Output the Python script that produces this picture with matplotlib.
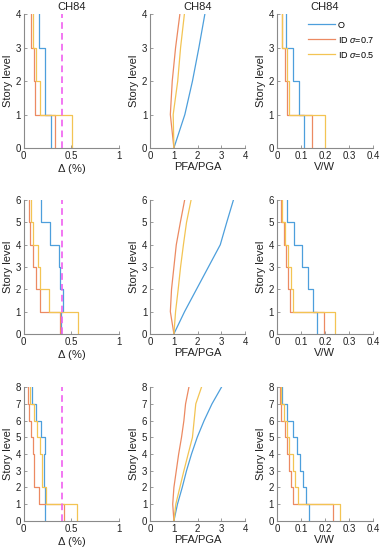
import numpy as np
import matplotlib.pyplot as plt

plt.rcParams['font.family'] = ['Liberation Sans', 'DejaVu Sans']
plt.rcParams['mathtext.fontset'] = 'custom'
plt.rcParams['mathtext.rm'] = 'Liberation Sans'
plt.rcParams['mathtext.it'] = 'Liberation Sans:italic'

# story drift ratio (%) per story, bottom to top
drift_O_4 = [0.286, 0.226, 0.226, 0.164]
drift_ID7_4 = [0.33, 0.115, 0.105, 0.08]
drift_ID5_4 = [0.505, 0.172, 0.13, 0.094]

drift_O_6 = [0.39, 0.415, 0.38, 0.37, 0.28, 0.18]
drift_ID7_6 = [0.385, 0.175, 0.13, 0.095, 0.07, 0.06]
drift_ID5_6 = [0.57, 0.27, 0.175, 0.15, 0.10, 0.075]

drift_O_8 = [0.226, 0.226, 0.21, 0.21, 0.22, 0.18, 0.13, 0.087]
drift_ID7_8 = [0.42, 0.157, 0.105, 0.105, 0.094, 0.077, 0.052, 0.045]
drift_ID5_8 = [0.565, 0.233, 0.19, 0.19, 0.167, 0.14, 0.11, 0.063]

# peak floor acceleration ratio at each floor level (0..n)
pfa_O_4 = [1.0, 1.46, 1.78, 2.05, 2.3]
pfa_ID7_4 = [1.0, 0.85, 0.93, 1.07, 1.25]
pfa_ID5_4 = [1.0, 0.97, 1.16, 1.28, 1.44]

pfa_O_6 = [1.0, 1.45, 1.95, 2.45, 2.95, 3.22, 3.5]
pfa_ID7_6 = [1.0, 0.85, 0.9, 1.0, 1.1, 1.27, 1.45]
pfa_ID5_6 = [1.0, 1.07, 1.18, 1.28, 1.4, 1.53, 1.72]

pfa_O_8 = [1.0, 1.15, 1.35, 1.53, 1.74, 1.98, 2.27, 2.6, 3.0]
pfa_ID7_8 = [1.0, 0.95, 1.0, 1.1, 1.2, 1.32, 1.42, 1.49, 1.63]
pfa_ID5_8 = [1.0, 1.08, 1.25, 1.42, 1.6, 1.78, 1.85, 1.92, 2.16]

# story shear ratio per story
vw_O_4 = [0.114, 0.094, 0.069, 0.039]
vw_ID7_4 = [0.148, 0.044, 0.034, 0.021]
vw_ID5_4 = [0.199, 0.052, 0.041, 0.023]

vw_O_6 = [0.165, 0.149, 0.131, 0.103, 0.073, 0.041]
vw_ID7_6 = [0.196, 0.055, 0.046, 0.038, 0.028, 0.018]
vw_ID5_6 = [0.243, 0.069, 0.059, 0.048, 0.034, 0.021]

vw_O_8 = [0.134, 0.121, 0.11, 0.097, 0.083, 0.066, 0.041, 0.023]
vw_ID7_8 = [0.234, 0.066, 0.059, 0.052, 0.041, 0.032, 0.018, 0.014]
vw_ID5_8 = [0.265, 0.086, 0.076, 0.066, 0.052, 0.041, 0.028, 0.018]

drift_limit = 0.4
labels = ["O", "ID $\\it{\\sigma}$=0.7", "ID $\\it{\\sigma}$=0.5"]
colors = ["#4d9fdc", "#ec8a62", "#f3c453"]

rows = [
    (4, [drift_O_4, drift_ID7_4, drift_ID5_4], [pfa_O_4, pfa_ID7_4, pfa_ID5_4], [vw_O_4, vw_ID7_4, vw_ID5_4]),
    (6, [drift_O_6, drift_ID7_6, drift_ID5_6], [pfa_O_6, pfa_ID7_6, pfa_ID5_6], [vw_O_6, vw_ID7_6, vw_ID5_6]),
    (8, [drift_O_8, drift_ID7_8, drift_ID5_8], [pfa_O_8, pfa_ID7_8, pfa_ID5_8], [vw_O_8, vw_ID7_8, vw_ID5_8]),
]


def stairs(vals):
    v = np.asarray(vals)
    n = len(v)
    x = np.repeat(v, 2)
    y = np.repeat(np.arange(n + 1), 2)[1:-1]
    return x, y


def style(ax, nst, xlim, xticks, xticklabels, xlabel):
    ax.set_xlim(xlim)
    ax.set_ylim(0, nst)
    ax.set_xticks(xticks)
    ax.set_xticklabels(xticklabels)
    ax.set_yticks(range(nst + 1))
    ax.set_xlabel(xlabel, fontsize=8, labelpad=1, color="#222222")
    ax.set_ylabel("Story level", fontsize=8, labelpad=2, color="#222222")
    for s in ["top", "right"]:
        ax.spines[s].set_visible(False)
    for s in ["left", "bottom"]:
        ax.spines[s].set_color("#8a8a8a")
        ax.spines[s].set_linewidth(0.8)
    ax.tick_params(direction="in", length=2, width=0.6, color="#8a8a8a", labelsize=7, pad=2,
                   labelcolor="#222222")


fig = plt.figure(figsize=(3.82, 5.5), dpi=100)
lefts = [0.062, 0.393, 0.725]
widths = [0.249, 0.249, 0.251]
bottoms = [0.731, 0.393, 0.053]
height = 0.243

for r, (nst, drifts, pfas, vws) in enumerate(rows):
    ax1 = fig.add_axes([lefts[0], bottoms[r], widths[0], height])
    ax2 = fig.add_axes([lefts[1], bottoms[r], widths[1], height])
    ax3 = fig.add_axes([lefts[2], bottoms[r], widths[2], height])

    for vals, c in zip(drifts, colors):
        x, y = stairs(vals)
        ax1.plot(x, y, color=c, lw=0.9)
    ax1.axvline(drift_limit, color="#f060f0", lw=1.2, ls=(0, (4, 2.5)))
    style(ax1, nst, (0, 1), [0, 0.5, 1], ["0", "0.5", "1"], "$\\Delta$ (%)")

    for vals, c in zip(pfas, colors):
        ax2.plot(vals, np.arange(nst + 1), color=c, lw=0.9)
    style(ax2, nst, (0, 4), [0, 1, 2, 3, 4], ["0", "1", "2", "3", "4"], "PFA/PGA")

    for vals, c, lab in zip(vws, colors, labels):
        x, y = stairs(vals)
        ax3.plot(x, y, color=c, lw=0.9, label=lab)
    style(ax3, nst, (0, 0.4), [0, 0.1, 0.2, 0.3, 0.4], ["0", "0.1", "0.2", "0.3", "0.4"], "V/W")

    if r == 0:
        for ax in (ax1, ax2, ax3):
            ax.set_title("CH84", fontsize=8, pad=3, color="#222222")
        ax3.legend(loc="upper left", bbox_to_anchor=(0.26, 1.0), frameon=False, fontsize=6.5,
                   handlelength=3.0, handletextpad=0.3, labelspacing=0.55, borderaxespad=0.3)

fig.savefig("out.png", dpi=100)
